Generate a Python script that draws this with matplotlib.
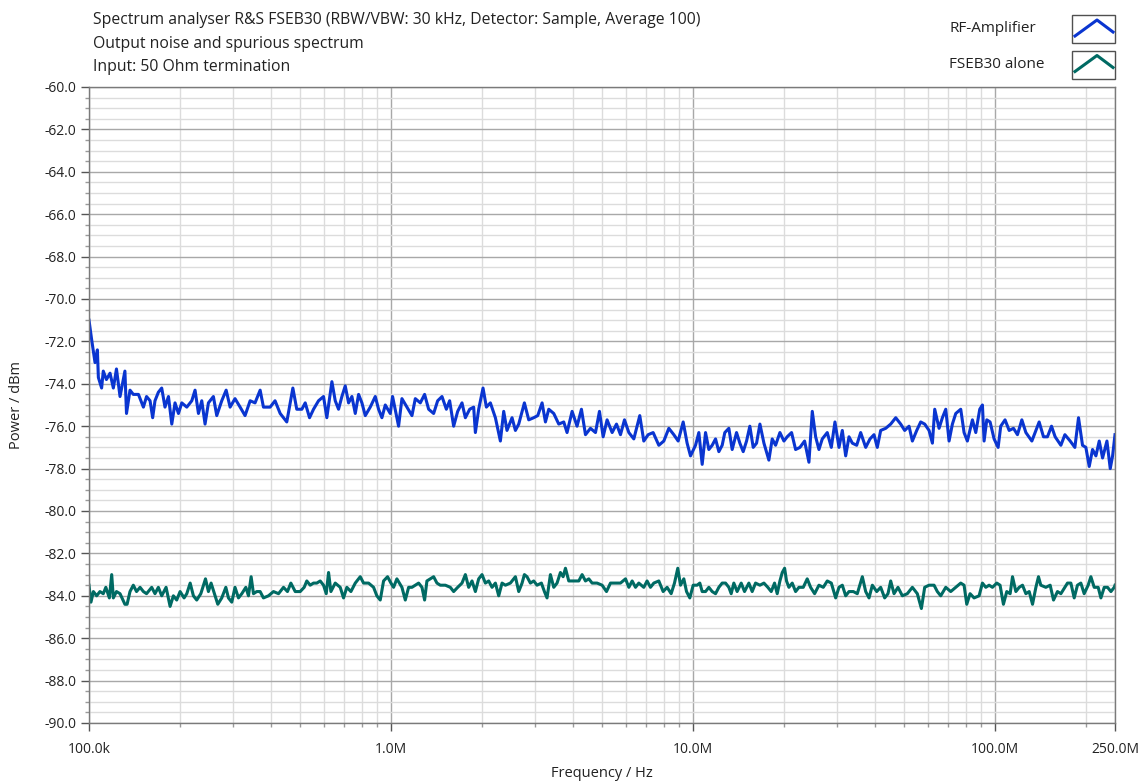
import numpy as np
import matplotlib
matplotlib.use("Agg")
import matplotlib.pyplot as plt
from matplotlib.ticker import FixedLocator, NullFormatter, MultipleLocator
from matplotlib.patches import Rectangle
from matplotlib.lines import Line2D

plt.rcParams['font.family'] = ['Open Sans', 'DejaVu Sans']

# RF amplifier output, 50 Ohm input termination (frequency in MHz, power in dBm)
amp_freq_mhz = [
    0.1000, 0.1020, 0.1047, 0.1066, 0.1074, 0.1101, 0.1115, 0.1142, 0.1174, 0.1204,
    0.1233, 0.1267, 0.1315, 0.1331, 0.1367, 0.1402, 0.1458, 0.1514, 0.1551, 0.1593,
    0.1625, 0.1654, 0.1697, 0.1741, 0.1785, 0.1833, 0.1880, 0.1927, 0.1978, 0.2029,
    0.2108, 0.2190, 0.2245, 0.2304, 0.2363, 0.2423, 0.2486, 0.2582, 0.2649, 0.2752,
    0.2846, 0.2933, 0.3045, 0.3166, 0.3287, 0.3417, 0.3547, 0.3688, 0.3782, 0.3980,
    0.4132, 0.4297, 0.4519, 0.4733, 0.4876, 0.5069, 0.5201, 0.5375, 0.5541, 0.5757,
    0.5980, 0.6133, 0.6374, 0.6539, 0.6706, 0.6879, 0.7057, 0.7239, 0.7425, 0.7618,
    0.7813, 0.8014, 0.8222, 0.8539, 0.8873, 0.9100, 0.9334, 0.9577, 0.9948, 1.0126,
    1.0462, 1.0600,
    1.0874, 1.1293, 1.1737, 1.2042, 1.2509, 1.2926, 1.3330, 1.3847, 1.4280, 1.4758,
    1.5257, 1.5646, 1.6131, 1.6635, 1.7192, 1.7638, 1.8227, 1.8792, 1.9037, 1.9525,
    2.0182, 2.0704, 2.1343, 2.2178, 2.3036, 2.3628, 2.4228, 2.5180, 2.5834, 2.6497,
    2.7666, 2.8598, 2.9708, 3.0636, 3.1661, 3.2483, 3.3315, 3.4607, 3.5957, 3.7352,
    3.8301, 3.9806, 4.1339, 4.2745, 4.4080, 4.5787, 4.7577, 4.9040, 5.0438, 5.1977,
    5.4020, 5.5846, 5.7568, 5.9350, 6.1352, 6.3732, 6.6693, 6.8763, 7.1090, 7.3855,
    7.7115, 8.0106, 8.3232, 8.6460, 8.9382, 9.2858, 9.5684, 9.8188, 10.203, 10.464,
    10.734, 11.012, 11.293, 11.584, 11.885, 12.189, 12.502, 12.756, 13.154, 13.492,
    13.948, 14.306, 14.677, 15.056, 15.439, 15.839, 16.249, 16.672, 17.189, 17.850,
    18.310, 18.785, 19.418, 20.021, 20.524, 21.222, 21.884, 22.616, 23.438, 24.228,
    24.852, 25.497, 26.149, 26.821, 27.859, 28.736, 29.542, 30.467, 31.251, 32.062,
    32.885, 33.731, 34.871, 35.945, 37.350, 38.596, 39.794, 40.802, 41.870, 43.507,
    45.195, 46.962, 48.773, 50.283, 51.979, 53.316, 55.118, 56.814, 58.573, 60.556,
    62.114, 63.227, 65.352, 67.033, 68.774, 70.535, 72.350, 74.229, 77.099, 79.081,
    81.094, 84.281, 86.470, 89.130,
    90.966, 92.125, 94.041, 96.440, 99.432, 102.54, 104.60, 108.09, 111.54, 115.29,
    118.82, 122.86, 126.70, 132.61, 136.75, 140.20, 144.92, 149.36, 154.06, 158.38,
    165.46, 170.59, 177.64, 184.09, 189.29, 195.14, 200.21, 205.37, 210.65, 216.12,
    221.69, 227.39, 235.08, 241.10, 245.45, 250.00,
]
amp_dbm = [
    -71.0, -71.9, -73.0, -72.4, -73.7, -74.2, -73.4, -73.8, -73.5, -74.2,
    -73.3, -74.6, -73.4, -75.4, -74.3, -74.5, -74.5, -75.1, -74.6, -74.8,
    -75.6, -74.8, -74.4, -74.2, -75.1, -74.6, -75.9, -74.9, -75.4, -74.9,
    -75.1, -74.8, -74.3, -75.4, -74.8, -75.9, -74.9, -74.6, -75.5, -74.8,
    -74.3, -75.1, -74.7, -75.1, -75.5, -74.8, -74.9, -74.3, -75.1, -75.1,
    -74.8, -75.4, -75.8, -74.2, -75.2, -75.2, -74.9, -75.6, -75.2, -74.8,
    -74.6, -75.6, -73.9, -74.8, -75.2, -74.6, -74.1, -74.9, -74.6, -75.4,
    -74.5, -74.9, -75.5, -75.1, -74.6, -75.2, -75.6, -75.0, -75.4, -74.6,
    -75.6, -76.0,
    -74.7, -75.1, -75.5, -74.7, -74.9, -74.5, -75.2, -75.4, -74.8, -74.6,
    -75.2, -74.8, -76.0, -75.3, -74.9, -75.6, -75.2, -75.1, -76.3, -75.2,
    -74.2, -75.1, -74.9, -75.6, -76.7, -75.3, -76.2, -75.6, -76.2, -75.9,
    -74.9, -75.7, -75.6, -75.5, -74.9, -75.8, -75.2, -75.4, -75.9, -75.8,
    -76.3, -75.3, -76.0, -75.2, -76.4, -76.1, -76.3, -75.3, -76.5, -75.7,
    -76.3, -75.9, -76.4, -75.7, -76.3, -76.6, -75.5, -76.7, -76.4, -76.3,
    -76.9, -76.7, -76.1, -76.4, -76.7, -75.8, -76.8, -77.4, -76.9, -76.3,
    -77.8, -76.3, -77.1, -76.9, -76.6, -77.2, -76.9, -76.3, -76.1, -77.1,
    -76.3, -76.8, -77.2, -76.7, -76.0, -77.0, -76.8, -75.9, -76.8, -77.6,
    -76.6, -76.9, -76.3, -76.7, -76.5, -76.3, -77.1, -77.0, -76.7, -77.7,
    -75.3, -76.5, -77.1, -76.6, -76.3, -77.0, -75.8, -77.0, -76.2, -77.4,
    -76.5, -76.8, -76.9, -76.3, -77.0, -76.6, -76.4, -77.0, -76.2, -76.1,
    -75.9, -75.6, -75.9, -76.2, -76.0, -76.7, -76.2, -75.8, -75.9, -76.2,
    -76.8, -75.2, -76.1, -75.6, -75.2, -76.7, -75.9, -75.4, -75.2, -76.3,
    -76.7, -75.7, -76.3, -75.2,
    -75.0, -76.7, -75.7, -75.8, -76.6, -77.0, -76.0, -75.7, -76.2, -76.1,
    -76.4, -75.7, -76.3, -76.7, -76.2, -75.8, -76.5, -76.5, -76.0, -76.5,
    -76.9, -76.4, -76.7, -77.0, -75.6, -76.9, -77.0, -77.9, -77.1, -77.4,
    -76.7, -77.5, -76.7, -78.0, -77.4, -76.4,
]

# Analyser noise floor alone
fseb_freq_mhz = [
    0.1000, 0.1015, 0.1034, 0.1060, 0.1087, 0.1115, 0.1137, 0.1168, 0.1189, 0.1204,
    0.1233, 0.1267, 0.1315, 0.1337, 0.1367, 0.1402, 0.1437, 0.1476, 0.1514, 0.1551,
    0.1613, 0.1654, 0.1697, 0.1741, 0.1800, 0.1856, 0.1903, 0.1952, 0.2003, 0.2065,
    0.2108, 0.2163, 0.2217, 0.2274, 0.2346, 0.2431, 0.2486, 0.2537, 0.2602, 0.2670,
    0.2752, 0.2839, 0.2896, 0.2971, 0.3045, 0.3126, 0.3207, 0.3307, 0.3374, 0.3443,
    0.3505, 0.3594, 0.3688, 0.3782, 0.3930, 0.4083, 0.4243, 0.4407, 0.4542, 0.4661,
    0.4819, 0.5005, 0.5160, 0.5264, 0.5402, 0.5541, 0.5682, 0.5831, 0.5980, 0.6105,
    0.6214, 0.6326, 0.6539, 0.6792, 0.6966, 0.7144, 0.7369, 0.7618, 0.7912, 0.8116,
    0.8432, 0.8759, 0.8981, 0.9216, 0.9453, 0.9744, 1.0000, 1.0204, 1.0462,
    1.0874, 1.1156, 1.1443, 1.1737, 1.2042, 1.2351, 1.2669, 1.2926, 1.3156, 1.3500,
    1.3847, 1.4200, 1.4571, 1.5141, 1.5727, 1.6131, 1.6635, 1.7192, 1.7638, 1.8090,
    1.8556, 1.9037, 1.9525, 2.0027, 2.0547, 2.1074, 2.1616, 2.2178, 2.2746, 2.3331,
    2.3937, 2.4862, 2.5834, 2.6497, 2.7179, 2.7666, 2.8225, 2.8963, 2.9708, 3.0464,
    3.1500, 3.2229, 3.2879, 3.3740, 3.4607, 3.5488, 3.6416, 3.7168, 3.7840, 3.8808,
    4.0314, 4.1887, 4.2964, 4.4080, 4.5210, 4.6373, 4.8157, 5.0050, 5.1742, 5.3338,
    5.5423, 5.7568, 5.9819, 6.1352, 6.2930, 6.4564, 6.6194, 6.8763, 7.0515, 7.2361,
    7.4221, 7.7115, 7.9710, 8.2144, 8.4729, 8.6904, 8.9111, 9.0980, 9.3318, 9.5260,
    9.7682, 10.022, 10.328, 10.543,
    10.734, 11.012, 11.293, 11.584, 11.885, 12.189, 12.502, 12.827, 13.154, 13.391,
    13.664, 14.013, 14.454, 14.825, 15.323, 15.717, 16.125, 16.672, 17.189, 17.707,
    18.171, 18.638, 19.021, 19.418, 19.769, 20.124, 20.420, 20.796, 21.331, 21.884,
    22.447, 23.203, 23.912, 24.537, 25.297, 26.149, 27.029, 27.859, 28.736, 29.706,
    30.467, 31.251, 32.062, 32.885, 33.992, 35.028, 36.405, 37.350, 38.308, 39.293,
    40.621, 41.870, 43.166, 44.267, 45.195, 46.357, 47.771, 49.397, 51.300, 53.316,
    55.365, 57.107, 58.573, 60.556, 62.905, 64.498, 66.186, 68.774, 71.436, 74.229,
    77.099, 79.081, 80.726, 82.786, 85.355, 88.684,
    90.966, 93.328, 95.719, 98.182, 101.50, 104.06, 106.76, 109.52, 112.38, 114.41,
    117.38, 120.40, 123.49, 126.70, 129.95, 133.29, 136.75, 139.49, 141.98, 147.54,
    152.48, 156.43, 161.24, 165.46, 170.59, 174.01, 178.56, 183.15, 187.76, 192.67,
    197.62, 203.72, 207.99, 213.34, 219.90, 224.52, 230.29, 236.17, 242.35, 248.58,
    250.00,
]
fseb_dbm = [
    -83.5, -84.3, -83.8, -84.0, -83.8, -83.9, -83.6, -84.1, -83.0, -84.1,
    -83.8, -83.9, -84.4, -84.4, -83.8, -83.5, -83.8, -83.6, -83.8, -83.9,
    -83.6, -83.9, -83.6, -84.0, -83.6, -84.5, -84.0, -84.2, -83.8, -84.1,
    -83.9, -83.4, -84.0, -84.2, -83.9, -83.2, -83.8, -83.4, -83.9, -84.4,
    -84.1, -83.6, -84.1, -84.3, -83.6, -84.1, -83.9, -83.6, -84.0, -83.1,
    -83.9, -83.8, -83.8, -84.1, -84.0, -83.8, -83.9, -83.6, -83.8, -83.4,
    -83.8, -83.8, -83.6, -83.3, -83.5, -83.4, -83.4, -83.3, -83.5, -83.9,
    -82.9, -83.8, -83.4, -83.6, -84.1, -83.6, -83.8, -83.4, -83.1, -83.4,
    -83.4, -83.6, -84.0, -84.2, -83.3, -83.1, -83.4, -83.6, -83.2,
    -83.6, -84.2, -83.6, -83.6, -83.5, -83.4, -83.6, -84.2, -83.3, -83.2,
    -83.1, -83.4, -83.5, -83.5, -83.6, -83.8, -83.6, -83.4, -83.0, -83.6,
    -83.3, -83.8, -83.2, -83.0, -83.4, -83.3, -83.6, -83.4, -84.0, -83.4,
    -83.5, -83.4, -83.1, -83.8, -83.4, -83.0, -83.1, -83.4, -83.3, -83.5,
    -83.4, -83.8, -84.1, -83.0, -83.6, -83.4, -82.9, -83.1, -82.7, -83.3,
    -83.3, -83.3, -83.0, -83.3, -83.2, -83.4, -83.4, -83.5, -83.8, -83.4,
    -83.4, -83.4, -83.2, -83.6, -83.3, -83.6, -83.4, -83.6, -83.3, -83.6,
    -83.4, -83.3, -83.8, -83.6, -83.9, -83.4, -82.7, -83.5, -83.2, -83.8,
    -84.1, -83.5, -83.5, -83.4,
    -83.8, -83.8, -83.6, -83.8, -83.9, -83.6, -83.4, -83.4, -83.6, -83.9,
    -83.4, -83.8, -83.4, -83.8, -83.4, -83.8, -83.4, -83.5, -83.4, -83.6,
    -83.8, -83.4, -83.9, -83.3, -82.9, -82.7, -83.3, -83.6, -83.4, -83.8,
    -83.6, -83.6, -83.2, -83.6, -83.9, -83.5, -83.6, -83.3, -83.4, -84.1,
    -83.6, -83.5, -84.0, -83.8, -83.8, -83.9, -83.1, -83.8, -84.1, -83.5,
    -83.8, -83.6, -84.1, -83.9, -83.3, -83.9, -83.6, -84.0, -83.9, -83.6,
    -83.9, -84.6, -83.6, -83.5, -83.5, -83.8, -84.0, -83.6, -83.8, -83.6,
    -83.4, -83.5, -84.4, -83.9, -84.1, -84.0,
    -83.4, -83.6, -83.5, -83.6, -83.4, -83.5, -84.4, -83.8, -83.9, -83.1,
    -83.8, -83.6, -83.5, -83.9, -83.8, -84.4, -83.6, -83.1, -83.5, -83.6,
    -83.5, -84.2, -83.8, -83.9, -83.6, -83.4, -83.4, -84.1, -83.5, -83.4,
    -83.9, -83.5, -83.1, -83.6, -83.6, -84.1, -83.6, -83.6, -83.8, -83.6,
    -83.5,
]

x_ticks = [1e5, 1e6, 1e7, 1e8, 2.5e8]
x_tick_labels = ['100.0k', '1.0M', '10.0M', '100.0M', '250.0M']
title_lines = [
    'Spectrum analyser R&S FSEB30 (RBW/VBW: 30 kHz, Detector: Sample, Average 100)',
    'Output noise and spurious spectrum',
    'Input: 50 Ohm termination',
]
series_names = ['RF-Amplifier', 'FSEB30 alone']
series_colors = ['#0a35d0', '#006a63']

W, H = 1141, 783
fig = plt.figure(figsize=(W / 100, H / 100), dpi=100)
ax = fig.add_axes([89 / W, 1 - 723 / H, (1115 - 89) / W, (723 - 87) / H])

ax.set_xscale('log')
ax.set_xlim(1e5, 2.5e8)
ax.set_ylim(-90, -60)

# grid: decades and 2 dB darker, sub-decades and 0.5 dB lighter
minor_x = [m * 10 ** e for e in range(5, 9) for m in range(2, 10) if m * 10 ** e < 2.5e8]
ax.xaxis.set_major_locator(FixedLocator(x_ticks))
ax.xaxis.set_minor_locator(FixedLocator(minor_x))
ax.set_xticklabels(x_tick_labels)
ax.xaxis.set_minor_formatter(NullFormatter())
ax.yaxis.set_major_locator(MultipleLocator(2))
ax.yaxis.set_minor_locator(MultipleLocator(0.5))
ax.yaxis.set_major_formatter(plt.FuncFormatter(lambda v, _: f'{v:.1f}'))

ax.grid(which='minor', color='#dcdcdc', linewidth=1.0)
ax.grid(which='major', color='#a8a8a8', linewidth=1.0)
ax.set_axisbelow(True)

for s in ax.spines.values():
    s.set_color('#7a7a7a')
    s.set_linewidth(1.0)

ax.tick_params(which='major', direction='out', length=6, width=1, color='#555555',
               labelsize=10, labelcolor='#222222', pad=3)
ax.tick_params(which='minor', direction='out', length=3, width=1, color='#9a9a9a')
ax.tick_params(axis='x', which='major', pad=8)

ax.plot(np.array(amp_freq_mhz) * 1e6, amp_dbm, color=series_colors[0], lw=2.2)
ax.plot(np.array(fseb_freq_mhz) * 1e6, fseb_dbm, color=series_colors[1], lw=2.2)

ax.set_ylabel('Power / dBm', fontsize=10.5, color='#222222', labelpad=15)
ax.set_xlabel('Frequency / Hz', fontsize=10.5, color='#222222', labelpad=6)

for i, line in enumerate(title_lines):
    fig.text(93 / W, 1 - (20 + 23.5 * i) / H, line, fontsize=11.3, color='#222222',
             va='center', ha='left')

# legend on the upper right: name plus a boxed line symbol
for i, (name, col) in enumerate(zip(series_names, series_colors)):
    yc = 29 + 35.5 * i
    fig.text(949 / W, 1 - yc / H, name, fontsize=11, color='#222222', va='center', ha='left')
    box_top = yc - 14
    fig.patches.append(Rectangle((1072 / W, 1 - (box_top + 28) / H), 43 / W, 28 / H,
                                 transform=fig.transFigure, fill=False,
                                 edgecolor='#505050', linewidth=1.0))
    xs = np.array([1075, 1097, 1113]) / W
    ys = 1 - np.array([box_top + 21, box_top + 5, box_top + 17]) / H
    fig.lines.append(Line2D(xs, ys, transform=fig.transFigure, color=col, lw=2.2))

fig.savefig('out.png', dpi=100, facecolor='white')
